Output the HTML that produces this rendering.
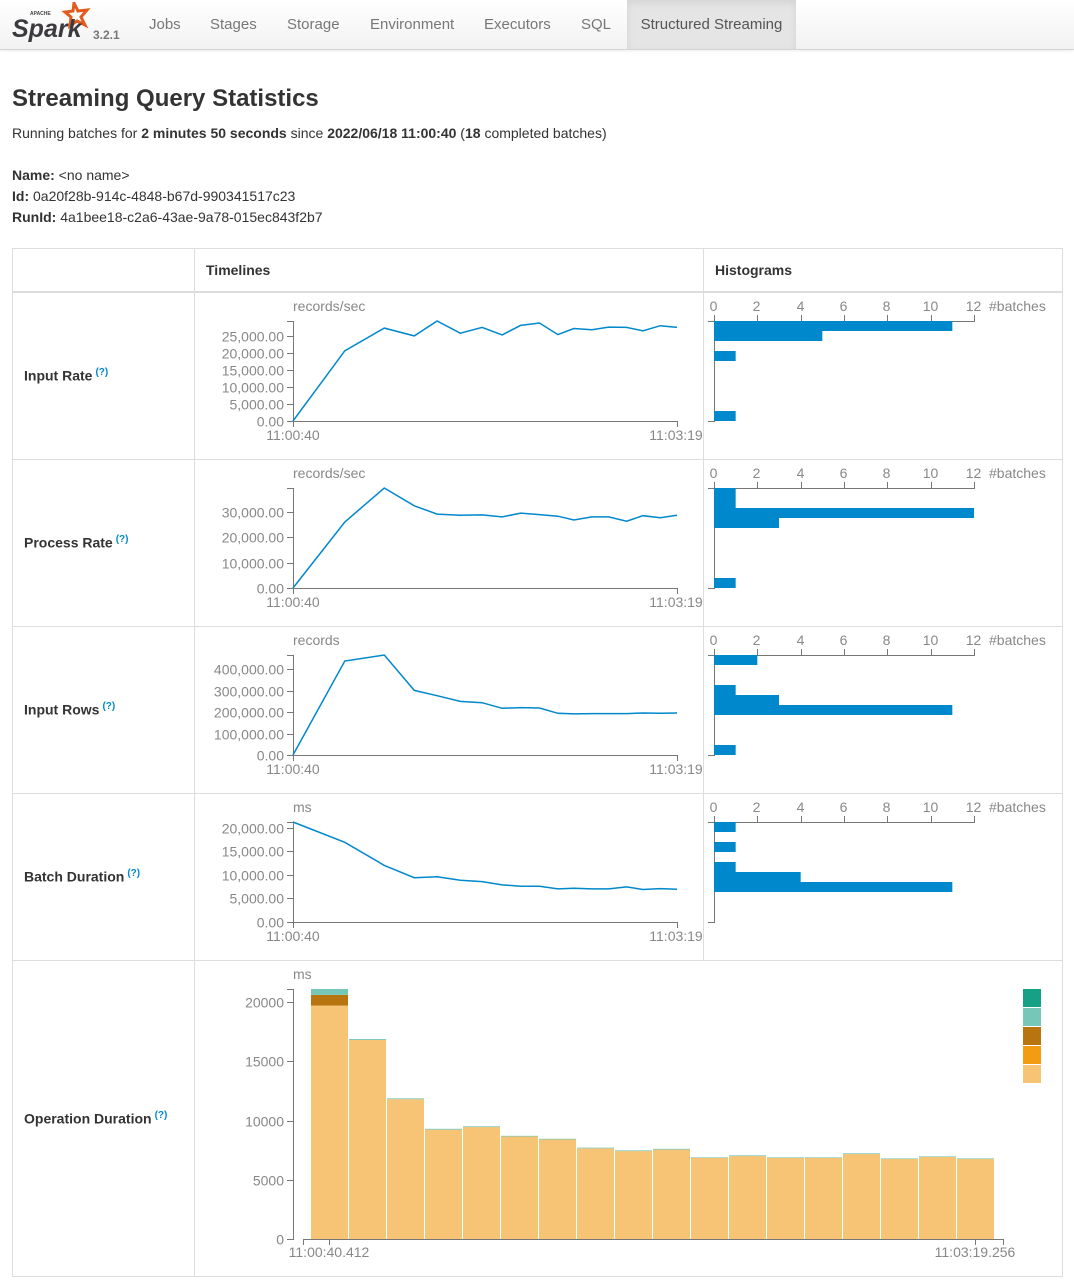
<!DOCTYPE html>
<html><head><meta charset="utf-8"><style>
body{margin:0;width:1074px;height:1285px;position:relative;font-family:"Liberation Sans",sans-serif;color:#333;background:#fff;overflow:hidden}
.a{position:absolute;white-space:nowrap}
.nav{position:absolute;left:0;top:0;width:1074px;height:49px;background:linear-gradient(#fff,#f2f2f2);border-bottom:1px solid #d4d4d4;box-shadow:0 1px 3px rgba(0,0,0,.08)}
.ni{position:absolute;top:0;height:49px;line-height:49px;font-size:15px;color:#777}
.lbl{position:absolute;left:24px;font-size:14px;font-weight:bold;color:#333}
.lbl sup{font-size:10px;color:#0088cc;font-weight:bold;margin-left:3px}
svg text{font-family:"Liberation Sans",sans-serif}
</style></head><body>
<div class="nav">
  <div class="a" style="left:12px;top:2px;width:80px;height:44px">
    <svg width="80" height="44"><polygon points="62,1 66,9 75,8 69,15 73,23 65,19 58,24 59,15 53,10 61,9" fill="none" stroke="#e25a1c" stroke-width="3"/>
    <text x="18" y="13" font-size="5" font-weight="bold" fill="#444">APACHE</text>
    <text x="0" y="35" font-size="25" font-style="italic" font-weight="bold" fill="#3c3a3e">Spark</text></svg>
  </div>
  <div class="a" style="left:93px;top:28px;font-size:12px;font-weight:bold;color:#777">3.2.1</div>
  <div class="ni" style="left:149px">Jobs</div>
  <div class="ni" style="left:210px">Stages</div>
  <div class="ni" style="left:287px">Storage</div>
  <div class="ni" style="left:370px">Environment</div>
  <div class="ni" style="left:484px">Executors</div>
  <div class="ni" style="left:581px">SQL</div>
  <div class="ni" style="left:627px;width:169px;background:#e5e5e5;color:#555;text-align:center;box-shadow:inset 0 3px 8px rgba(0,0,0,.08)">Structured Streaming</div>
</div>
<div class="a" style="left:12px;top:85px;font-size:24px;font-weight:bold">Streaming Query Statistics</div>
<div class="a" style="left:12px;top:125px;font-size:14px">Running batches for <b>2 minutes 50 seconds</b> since <b>2022/06/18 11:00:40</b> (<b>18</b> completed batches)</div>
<div class="a" style="left:12px;top:167px;font-size:14px"><b>Name:</b> &lt;no name&gt;</div>
<div class="a" style="left:12px;top:188px;font-size:14px"><b>Id:</b> 0a20f28b-914c-4848-b67d-990341517c23</div>
<div class="a" style="left:12px;top:209px;font-size:14px"><b>RunId:</b> 4a1bee18-c2a6-43ae-9a78-015ec843f2b7</div>

<div class="a" style="left:206px;top:262px;font-size:14px;font-weight:bold">Timelines</div>
<div class="a" style="left:715px;top:262px;font-size:14px;font-weight:bold">Histograms</div>
<div class="lbl" style="top:367px">Input Rate<sup>(?)</sup></div>
<div class="lbl" style="top:534px">Process Rate<sup>(?)</sup></div>
<div class="lbl" style="top:701px">Input Rows<sup>(?)</sup></div>
<div class="lbl" style="top:868px">Batch Duration<sup>(?)</sup></div>
<div class="lbl" style="top:1110px">Operation Duration<sup>(?)</sup></div>

<svg id="s" class="a" style="left:0;top:0" width="1074" height="1285"></svg>
<script>
const times=[0,21.4,37.7,50.1,59.5,69.1,78.1,86.4,94,101.8,109.4,116,123.4,130.4,137.8,144.5,151.7,158.6];
const inputRate=[0,20700,27400,25100,29500,25900,27600,25400,28200,28900,25500,27300,26900,27700,27600,26600,28100,27600];
const processRate=[0,26000,39400,32400,29100,28700,28800,28000,29500,28900,28300,26800,28000,28000,26300,28500,27700,28700];
const inputRows=[0,438800,466600,301300,276600,250300,244100,217800,221000,219400,194700,191600,193100,193100,193100,196200,194700,196200];
const batchDur=[21200,16900,12000,9400,9600,8850,8560,7860,7580,7580,7020,7160,7020,7020,7440,6880,7090,6950];
const ticksInputRate=[0,5000,10000,15000,20000,25000];
const ticksProcessRate=[0,10000,20000,30000];
const ticksInputRows=[0,100000,200000,300000,400000];
const ticksBatchDur=[0,5000,10000,15000,20000];
const histInputRate=[11,5,0,1,0,0,0,0,0,1];
const histProcessRate=[1,1,12,3,0,0,0,0,0,1];
const histInputRows=[2,0,0,1,3,11,0,0,0,1];
const histBatchDur=[1,0,1,0,1,4,11,0,0,0];
const histTicks=[0,2,4,6,8,10,12];
const opAddBatch=[19700,16800,11800,9230,9450,8650,8400,7650,7420,7550,6850,7000,6850,6850,7170,6750,6920,6750];
const opGetBatch=[0,0,0,0,0,0,0,0,0,0,0,0,0,0,0,0,0,0];
const opLatestOffset=[900,0,0,0,0,0,0,0,0,0,0,0,0,0,0,0,0,0];
const opQueryPlanning=[500,80,70,70,60,60,60,60,60,60,50,60,50,50,60,50,50,50];
const opWalCommit=[0,0,0,0,0,0,0,0,0,0,0,0,0,0,0,0,0,0];
const opTicks=[0,5000,10000,15000,20000];

const S=document.getElementById('s');const NS='http://www.w3.org/2000/svg';
function mk(tag,at,parent){const e=document.createElementNS(NS,tag);for(const k in at)e.setAttribute(k,at[k]);(parent||S).appendChild(e);return e;}
function txt(x,y,s,anchor,size,fill){const t=mk('text',{x:x,y:y,'text-anchor':anchor||'start','font-size':size||14,fill:fill||'#888'});t.textContent=s;return t;}
const fmt=v=>v.toLocaleString('en-US',{minimumFractionDigits:2,maximumFractionDigits:2});
const G='#ddd';
mk('rect',{x:12.5,y:248.5,width:1050,height:1028,fill:'none',stroke:G});
mk('line',{x1:194.5,y1:248,x2:194.5,y2:1277,stroke:G});
mk('line',{x1:703.5,y1:248,x2:703.5,y2:960,stroke:G});
mk('line',{x1:12,y1:292,x2:1063,y2:292,stroke:G,'stroke-width':2});
[459,626,793,960].forEach(y=>mk('line',{x1:12,y1:y+.5,x2:1063,y2:y+.5,stroke:G}));

const X0=293,X1=677,TMAX=times[times.length-1];
const xs=t=>X0+t/TMAX*(X1-X0);
function timeline(top,vals,ticks,unit,name){
  const g=mk('g',{});
  
  
  const y0=top+129,y1=top+29,max=Math.max(...vals);
  const ys=v=>y0-v/max*(y0-y1);
  txt(X0,top+19,unit,'start',14,'#888');
  mk('path',{d:`M${X0-6},${y1}.5H${X0}.5V${y0}.5H${X0-6}`,fill:'none',stroke:'#777'},g);
  ticks.forEach(v=>{const y=Math.round(ys(v))+.5;mk('line',{x1:X0-6,y1:y,x2:X0,y2:y,stroke:'#777'},g);txt(X0-9,y+5,fmt(v),'end',14,'#888');});
  mk('path',{d:`M${X0}.5,${y0+6}V${y0}.5H${X1}.5V${y0+6}`,fill:'none',stroke:'#777'},g);
  txt(X0,y0+19,'11:00:40','middle',14,'#888');txt(X1-1,y0+19,'11:03:19','middle',14,'#888');
  const p=mk('path',{d:vals.map((v,i)=>(i?'L':'M')+xs(times[i]).toFixed(1)+','+ys(v).toFixed(1)).join(''),fill:'none',stroke:'#0088cc','stroke-width':1.5},g);
  
  
}
const H0=714,H1=974;const hx=v=>H0+v/12*(H1-H0);
function hist(top,bins,name){
  const y0=top+29;
  txt(989,top+19,'#batches','start',14,'#888');
  mk('path',{d:`M${H0}.5,${y0}V${y0+100}.5H${H0-6}M${H0-6},${y0}.5H${H1}.5V${y0-6}`,fill:'none',stroke:'#777'});
  histTicks.forEach(v=>{const x=Math.round(hx(v))+.5;mk('line',{x1:x,y1:y0,x2:x,y2:y0-6,stroke:'#777'});txt(x-1,top+19,String(v),'middle',14,'#888');});
  bins.forEach((c,i)=>{if(!c)return;const r=mk('rect',{x:H0,y:y0+i*10,width:hx(c)-H0,height:10,fill:'#0088cc'});
    
    });
}
timeline(292,inputRate,ticksInputRate,'records/sec','input-rate');hist(292,histInputRate,'input-rate');
timeline(459,processRate,ticksProcessRate,'records/sec','process-rate');hist(459,histProcessRate,'process-rate');
timeline(626,inputRows,ticksInputRows,'records','input-rows');hist(626,histInputRows,'input-rows');
timeline(793,batchDur,ticksBatchDur,'ms','batch-duration');hist(793,histBatchDur,'batch-duration');

const series=[opAddBatch,opGetBatch,opLatestOffset,opQueryPlanning,opWalCommit];
const names=['addBatch','getBatch','latestOffset','queryPlanning','walCommit'];
const cols=['#f7c475','#f39c12','#b8740e','#76c7b7','#16a085'];
const totals=opAddBatch.map((_,i)=>series.reduce((s,a)=>s+a[i],0));
const OY0=1239,OY1=989,OMAX=Math.max(...totals);
const oy=v=>OY0-v/OMAX*(OY0-OY1);
txt(293,979,'ms','start',14,'#888');
mk('path',{d:`M287,${OY1}.5H293.5V${OY0}.5H287`,fill:'none',stroke:'#777'});
opTicks.forEach(v=>{const y=Math.round(oy(v))+.5;mk('line',{x1:287,y1:y,x2:293,y2:y,stroke:'#777'});txt(284,y+5,String(v),'end',14,'#888');});
const BX=311,BW=38;
mk('path',{d:`M303.5,1245V1239.5H1003.5V1245M329.5,1239V1245M975.5,1239V1245`,fill:'none',stroke:'#777'});
txt(329,1257,'11:00:40.412','middle',14,'#888');txt(975,1257,'11:03:19.256','middle',14,'#888');
totals.forEach((_,i)=>{let acc=0;series.forEach((arr,k)=>{const v=arr[i];if(!v){return;}
  const r=mk('rect',{x:BX+i*BW,y:oy(acc+v),width:BW-1,height:oy(acc)-oy(acc+v),fill:cols[k]});
  
  
  acc+=v;});});
[4,3,2,1,0].forEach((k,j)=>{const r=mk('rect',{x:1023,y:989+j*19,width:18,height:18,fill:cols[k]});
  
  });
</script>
</body></html>
